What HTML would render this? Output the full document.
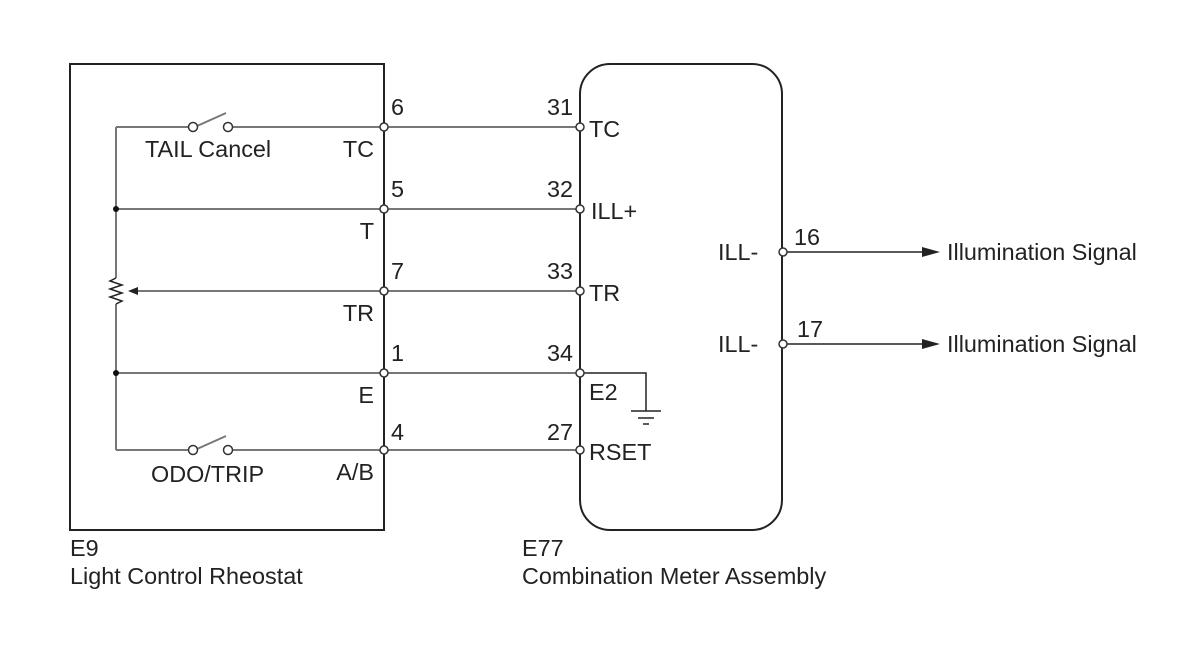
<!DOCTYPE html>
<html><head><style>
body{margin:0;background:#fff;width:1204px;height:644px;overflow:hidden}
svg text{font-family:"Liberation Sans",sans-serif;font-size:23.4px;fill:#222}
</style></head><body>
<svg width="1204" height="644" viewBox="0 0 1204 644">
<g fill="none" stroke="#222" stroke-width="2">
<rect x="70" y="64" width="314" height="466"/>
<rect x="580" y="64" width="202" height="466" rx="30"/>
</g>
<g fill="none" stroke="#777" stroke-width="2">
<path d="M116 127 V278 M116 304 V450"/>
<path d="M116 127 H188 M233 127 H580"/>
<path d="M116 209 H580"/>
<path d="M136 291 H580"/>
<path d="M116 373 H580"/>
<path d="M116 450 H188 M233 450 H580"/>
<path d="M197 126 L226 113"/>
<path d="M197 449 L226 436"/>
<path d="M116 278 L110 281 L122 285 L110 289 L122 293 L110 297 L122 301 L116 304" stroke="#222" stroke-width="1.5"/>
</g>
<polygon points="128,291 138,287 138,295" fill="#222"/>
<circle cx="116" cy="209" r="3" fill="#111"/>
<circle cx="116" cy="373" r="3" fill="#111"/>
<g fill="none" stroke="#222" stroke-width="1.5">
<path d="M580 373 H646 V411 M631 411 H661 M638 418 H654 M643 424 H649"/>
<path d="M782 252 H930 M782 344 H930"/>
</g>
<polygon points="922,247 940,252 922,257" fill="#222"/>
<polygon points="922,339 940,344 922,349" fill="#222"/>
<g fill="#fff" stroke="#333" stroke-width="1.5">
<circle cx="193" cy="127" r="4.5"/><circle cx="228" cy="127" r="4.5"/>
<circle cx="193" cy="450" r="4.5"/><circle cx="228" cy="450" r="4.5"/>
<circle cx="384" cy="127" r="4"/><circle cx="384" cy="209" r="4"/><circle cx="384" cy="291" r="4"/><circle cx="384" cy="373" r="4"/><circle cx="384" cy="450" r="4"/>
<circle cx="580" cy="127" r="4"/><circle cx="580" cy="209" r="4"/><circle cx="580" cy="291" r="4"/><circle cx="580" cy="373" r="4"/><circle cx="580" cy="450" r="4"/>
<circle cx="783" cy="252" r="4"/><circle cx="783" cy="344" r="4"/>
</g>
<text x="145" y="157">TAIL Cancel</text>
<text x="151" y="482">ODO/TRIP</text>
<text x="374" y="157" text-anchor="end">TC</text>
<text x="374" y="239" text-anchor="end">T</text>
<text x="374" y="321" text-anchor="end">TR</text>
<text x="374" y="403" text-anchor="end">E</text>
<text x="374" y="480" text-anchor="end">A/B</text>
<text x="391" y="115">6</text><text x="391" y="197">5</text><text x="391" y="279">7</text><text x="391" y="361">1</text><text x="391" y="440">4</text>
<text x="573" y="115" text-anchor="end">31</text><text x="573" y="197" text-anchor="end">32</text><text x="573" y="279" text-anchor="end">33</text><text x="573" y="361" text-anchor="end">34</text><text x="573" y="440" text-anchor="end">27</text>
<text x="589" y="137">TC</text><text x="591" y="219">ILL+</text><text x="589" y="301">TR</text><text x="589" y="400">E2</text><text x="589" y="460">RSET</text>
<text x="718" y="260">ILL-</text><text x="718" y="352">ILL-</text>
<text x="794" y="245">16</text><text x="797" y="337">17</text>
<text x="947" y="260">Illumination Signal</text>
<text x="947" y="352">Illumination Signal</text>
<text x="70" y="556">E9</text>
<text x="70" y="584">Light Control Rheostat</text>
<text x="522" y="556">E77</text>
<text x="522" y="584">Combination Meter Assembly</text>
</svg>
</body></html>
